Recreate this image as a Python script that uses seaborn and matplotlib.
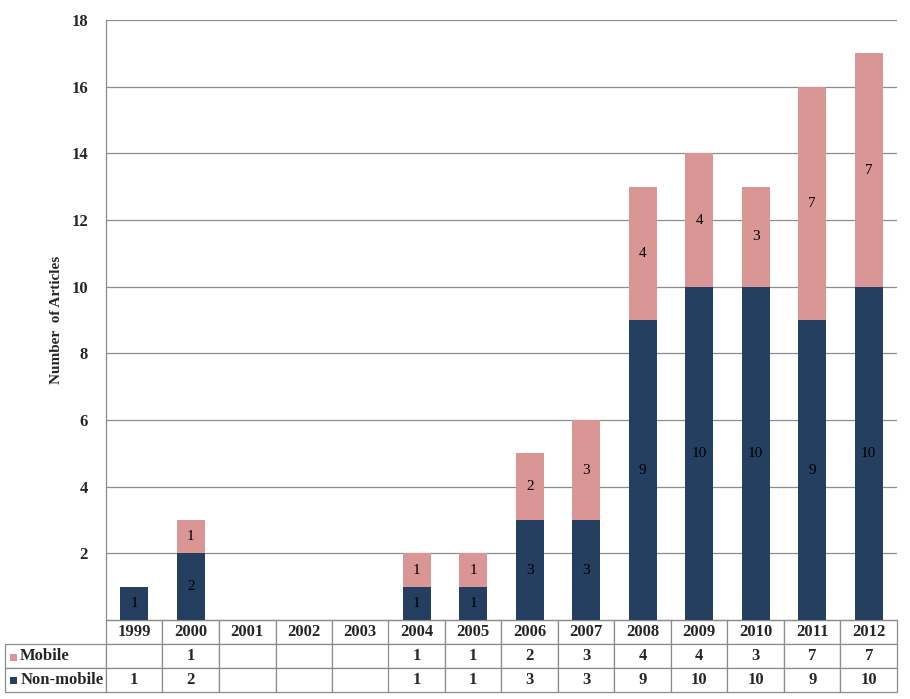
import numpy as np
import matplotlib.pyplot as plt
import matplotlib.patches as mpatches
from matplotlib.table import Table
import seaborn as sns
import pandas as pd

years = ["1999", "2000", "2001", "2002", "2003", "2004", "2005",
         "2006", "2007", "2008", "2009", "2010", "2011", "2012"]
mobile = [0, 1, 0, 0, 0, 1, 1, 2, 3, 4, 4, 3, 7, 7]
non_mobile = [1, 2, 0, 0, 0, 1, 1, 3, 3, 9, 10, 10, 9, 10]
row_names = ["Mobile", "Non-mobile"]

NAVY = "#243F60"
PINK = "#D99694"
GRID = "#8C8C8C"


def main():
    sns.set_style("white")
    plt.rcParams["font.family"] = ["Liberation Serif", "DejaVu Serif"]

    df = pd.DataFrame({"year": years, "mobile": mobile, "non_mobile": non_mobile})
    df["total"] = df["mobile"] + df["non_mobile"]

    fig = plt.figure(figsize=(9.10, 6.99), dpi=100)
    ax = fig.add_axes([106 / 910, 79 / 699, 791 / 910, 600 / 699])

    # stacked: draw totals in pink, then the non-mobile part over it
    sns.barplot(data=df, x="year", y="total", color=PINK, width=0.5,
                saturation=1, linewidth=0, ax=ax, zorder=3)
    sns.barplot(data=df, x="year", y="non_mobile", color=NAVY, width=0.5,
                saturation=1, linewidth=0, ax=ax, zorder=4)

    # segment labels
    for i, (m, n) in enumerate(zip(mobile, non_mobile)):
        if n > 0:
            ax.text(i, n / 2, str(n), ha="center", va="center", fontsize=11,
                    color="black", zorder=5)
        if m > 0:
            ax.text(i, n + m / 2, str(m), ha="center", va="center", fontsize=11,
                    color="black", zorder=5)

    ax.set_ylim(0, 18)
    ax.set_xlim(-0.5, len(years) - 0.5)
    ax.set_yticks(np.arange(2, 19, 2))
    ax.set_yticklabels([str(v) for v in range(2, 19, 2)], fontsize=12,
                       fontweight="bold")
    ax.tick_params(axis="y", length=0, pad=13)
    ax.yaxis.grid(True, color=GRID, linewidth=0.9, zorder=0)
    ax.set_axisbelow(True)
    ax.set_xticks([])
    ax.set_xlabel("")
    ax.set_ylabel("Number  of Articles", fontsize=11, fontweight="bold",
                  labelpad=6)
    for side in ["top", "right"]:
        ax.spines[side].set_visible(False)
    for side in ["left", "bottom"]:
        ax.spines[side].set_color(GRID)
        ax.spines[side].set_linewidth(0.9)

    # data table below the axis (label column sits left of the bbox)
    label_w = 101 / 791
    col_w = 1 / len(years)
    row_h = 0.04
    cell_text = [[str(v) if v else "" for v in mobile],
                 [str(v) if v else "" for v in non_mobile]]
    tbl = Table(ax, bbox=[0, -0.12, 1, 0.12])
    for c, yr in enumerate(years):
        tbl.add_cell(0, c, width=col_w, height=row_h, text=yr, loc="center")
    for r, name in enumerate(row_names):
        tbl.add_cell(r + 1, -1, width=label_w, height=row_h, text=name,
                     loc="left")
        for c in range(len(years)):
            tbl.add_cell(r + 1, c, width=col_w, height=row_h,
                         text=cell_text[r][c], loc="center")
    tbl.auto_set_font_size(False)
    for (r, c), cell in tbl.get_celld().items():
        cell.set_edgecolor(GRID)
        cell.set_linewidth(0.9)
        cell.get_text().set_fontsize(12)
        cell.get_text().set_fontweight("bold")
        if c == -1:
            cell.PAD = 0.15
    ax.add_table(tbl)

    # legend keys in the row label cells
    sq_w = 7 / 791
    sq_h = 7 / 600
    for yc, col in [(-37 / 600, PINK), (-60 / 600, NAVY)]:
        ax.add_patch(mpatches.Rectangle((-label_w + 5 / 791, yc - sq_h / 2),
                                        sq_w, sq_h, transform=ax.transAxes,
                                        facecolor=col, edgecolor="none",
                                        clip_on=False, zorder=6))

    fig.savefig("out.png", dpi=100)


if __name__ == "__main__":
    main()
